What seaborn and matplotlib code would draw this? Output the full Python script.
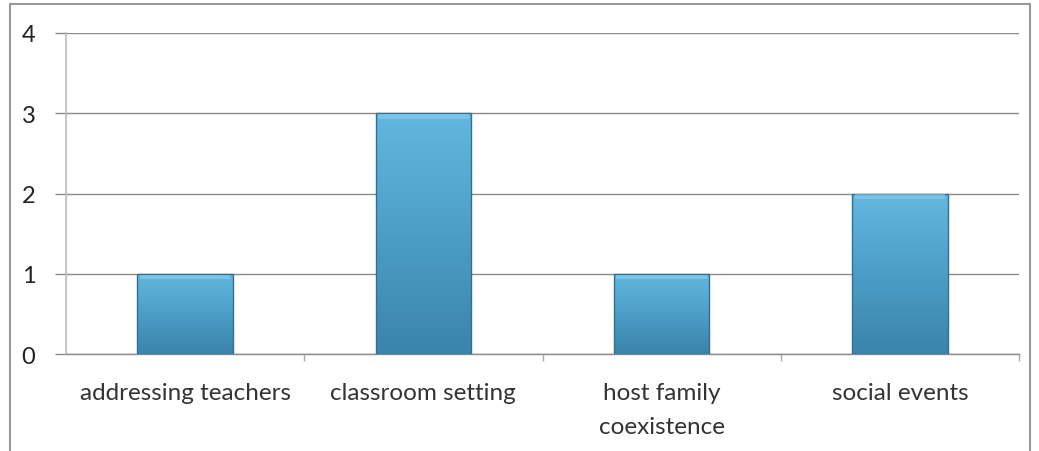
import numpy as np
import pandas as pd
import matplotlib
matplotlib.use("Agg")
import matplotlib.pyplot as plt
import seaborn as sns
from matplotlib.patches import Rectangle
from matplotlib.colors import LinearSegmentedColormap

categories = ["addressing teachers", "classroom setting", "host family\ncoexistence", "social events"]
values = [1, 3, 1, 2]
y_ticks = [0, 1, 2, 3, 4]

sns.set_theme(style="white")
plt.rcParams["font.family"] = ["Lato", "DejaVu Sans"]

W, H = 1039, 452
fig = plt.figure(figsize=(W / 100, H / 100), dpi=100)
ax = fig.add_axes([66 / W, 1 - 355 / H, (1019 - 66) / W, (355 - 34) / H])

df = pd.DataFrame({"category": categories, "value": values})
sns.barplot(data=df, x="category", y="value", ax=ax, width=0.4,
            color="#58aed6", edgecolor="none", saturation=1)

# vertical blue gradient inside each bar
cmap = LinearSegmentedColormap.from_list("bar", ["#3b84ab", "#4c9ec7", "#62b8e0"])
grad = np.linspace(0, 1, 256).reshape(-1, 1)
for p in list(ax.patches):
    x0, y0 = p.get_x(), p.get_y()
    w, h = p.get_width(), p.get_height()
    im = ax.imshow(grad, extent=[x0, x0 + w, y0, y0 + h], origin="lower",
                   cmap=cmap, aspect="auto", zorder=3)
    im.set_clip_path(p)
    # darker outline and soft top bevel
    ax.add_patch(Rectangle((x0, y0), w, h, fill=False, edgecolor="#336f90",
                           linewidth=1.0, zorder=4))
    ax.add_patch(Rectangle((x0 + 0.01, y0 + h - 0.07), w - 0.02, 0.06,
                           facecolor="#8fd0ee", edgecolor="none", alpha=0.55, zorder=4))

ax.set_xlim(-0.5, len(categories) - 0.5)
ax.set_ylim(0, 4)
ax.set_yticks(y_ticks)
ax.set_yticklabels([str(t) for t in y_ticks], fontsize=17, color="#222222")
ax.set_xlabel("")
ax.set_ylabel("")
ax.tick_params(axis="x", length=0, pad=20, labelsize=17.5, labelcolor="#333333")
for lbl in ax.get_xticklabels():
    lbl.set_linespacing(1.75)
ax.tick_params(axis="y", length=8, width=1, color="#888888", pad=14, left=True)

# category boundary ticks below the axis
ax.set_xticks(np.arange(0.5, len(categories), 1.0), minor=True)
ax.tick_params(axis="x", which="minor", length=5, width=1, color="#aaaaaa", bottom=True)

ax.yaxis.grid(True, color="#8a8a8a", linewidth=1.0)
ax.set_axisbelow(True)
for side in ["top", "right"]:
    ax.spines[side].set_visible(False)
ax.spines["left"].set_color("#bbbbbb")
ax.spines["left"].set_linewidth(1.2)
ax.spines["bottom"].set_color("#8a8a8a")
ax.spines["bottom"].set_linewidth(1.0)

# outer chart frame
fig.patches.append(Rectangle((10 / W, -0.05), (1030 - 10) / W, 1 - 5 / H + 0.05,
                             transform=fig.transFigure, fill=False,
                             edgecolor="#999999", linewidth=1.5))

fig.savefig("out.png", dpi=100, facecolor="white")
